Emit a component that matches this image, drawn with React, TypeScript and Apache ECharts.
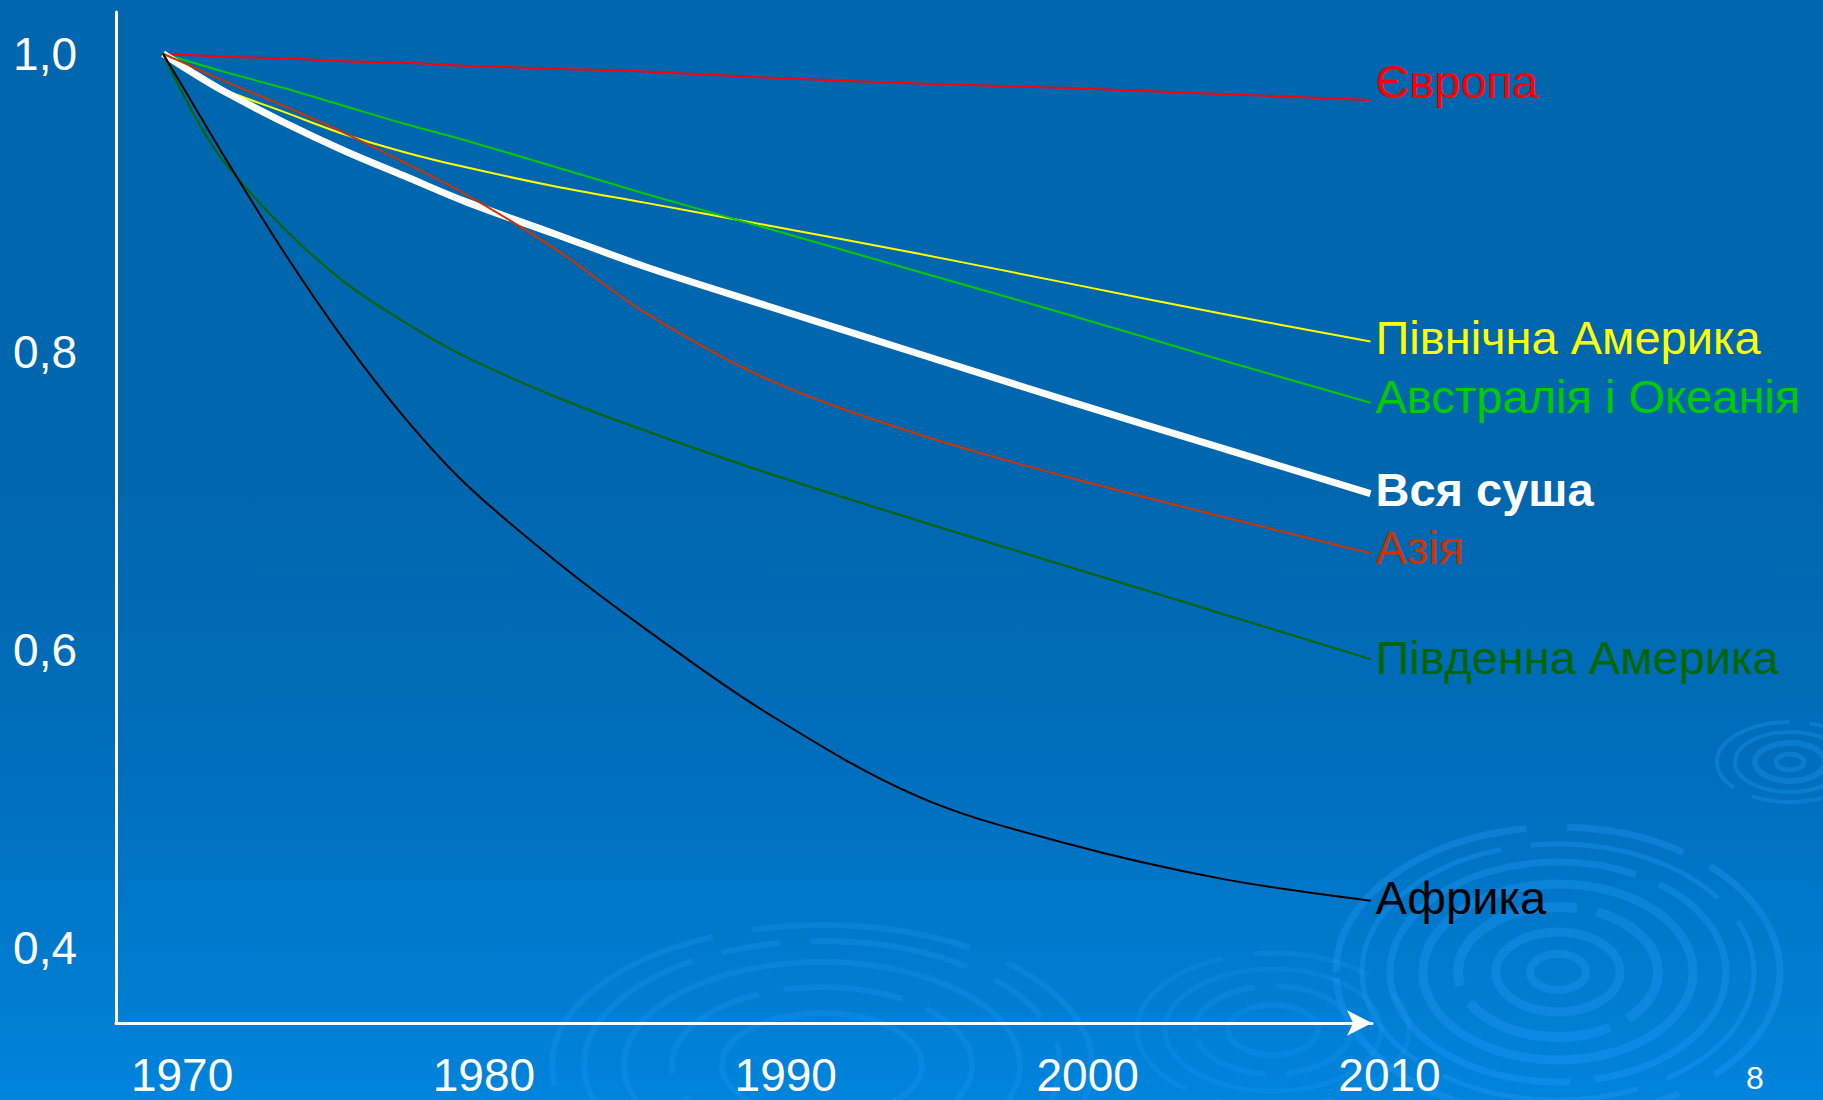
import React, { useEffect, useRef } from "react";
import * as echarts from "echarts";

const years = [1970, 1971, 1972, 1974, 1976, 1978, 1980, 1983, 1986, 1990, 1995, 2000, 2005, 2010];
const europe = [1.0, 0.999, 0.998, 0.997, 0.995, 0.994, 0.992, 0.99, 0.988, 0.984, 0.98, 0.977, 0.973, 0.969];
const northAmerica = [1.0, 0.986, 0.976, 0.961, 0.946, 0.934, 0.924, 0.911, 0.9, 0.885, 0.866, 0.846, 0.826, 0.807];
const australia = [1.0, 0.994, 0.988, 0.977, 0.965, 0.953, 0.942, 0.924, 0.906, 0.883, 0.854, 0.825, 0.795, 0.766];
const allLand = [1.0, 0.987, 0.975, 0.954, 0.935, 0.918, 0.901, 0.879, 0.857, 0.831, 0.799, 0.767, 0.736, 0.705];
const asia = [1.0, 0.991, 0.982, 0.965, 0.947, 0.927, 0.906, 0.869, 0.826, 0.782, 0.745, 0.716, 0.69, 0.665];
const southAmerica = [1.0, 0.96, 0.928, 0.883, 0.847, 0.82, 0.797, 0.77, 0.747, 0.719, 0.687, 0.656, 0.625, 0.594];
const africa = [1.0, 0.966, 0.932, 0.867, 0.808, 0.756, 0.712, 0.66, 0.614, 0.558, 0.502, 0.47, 0.447, 0.432];

const xTicks = [1970, 1980, 1990, 2000, 2010];
const yTicks = [0.4, 0.6, 0.8, 1.0];
const pageNumber = "8";

const FONT = "'Liberation Sans', Arial, sans-serif";

type SeriesDef = {
  name: string;
  values: number[];
  color: string;
  width: number;
  labelDy: number;
  bold?: boolean;
};

const seriesDefs: SeriesDef[] = [
  { name: "Європа", values: europe, color: "#FF0000", width: 2, labelDy: -18 },
  { name: "Північна Америка", values: northAmerica, color: "#FFFF00", width: 2, labelDy: -4 },
  { name: "Австралія і Океанія", values: australia, color: "#00CC00", width: 2, labelDy: -6 },
  { name: "Вся суша", values: allLand, color: "#FFFFFF", width: 7, labelDy: -4, bold: true },
  { name: "Азія", values: asia, color: "#CC3300", width: 2, labelDy: -6 },
  { name: "Південна Америка", values: southAmerica, color: "#006600", width: 2, labelDy: -2 },
  { name: "Африка", values: africa, color: "#000000", width: 2, labelDy: -3 },
];

function ripple(cx: number, cy: number, rings: [number, number, number, number[] | null][], alpha: number) {
  return rings.map(([rx, ry, lw, dash]) => ({
    type: "ellipse",
    silent: true,
    z: -1,
    shape: { cx, cy, rx, ry },
    style: {
      fill: "none",
      stroke: `rgba(40,160,255,${alpha})`,
      lineWidth: lw,
      lineDash: dash || undefined,
    },
  }));
}

export default function App() {
  const ref = useRef<HTMLDivElement>(null);

  useEffect(() => {
    if (!ref.current) return;
    const chart = echarts.init(ref.current, undefined, { renderer: "svg" });

    const series = seriesDefs.map((d) => ({
      name: d.name,
      type: "line",
      data: years.map((y, i) => [y, d.values[i]]),
      showSymbol: false,
      smooth: 0.35,
      silent: true,
      lineStyle: { color: d.color, width: d.width },
      itemStyle: { color: d.color },
      endLabel: {
        show: true,
        formatter: "{a}",
        color: d.color,
        fontSize: 47,
        fontFamily: FONT,
        fontWeight: d.bold ? "bold" : "normal",
        distance: 5,
        offset: [0, d.labelDy],
      },
    }));

    const graphics: any[] = [
      ...ripple(1558, 972, [
        [222, 145, 7, [260, 40, 120, 30]],
        [196, 128, 5, [200, 30]],
        [168, 110, 7, [300, 25]],
        [135, 88, 9, null],
        [100, 65, 10, [150, 20]],
        [62, 40, 9, null],
        [28, 18, 8, null],
      ], 0.3),
      ...ripple(1790, 762, [
        [73, 40, 4, [90, 20]],
        [55, 30, 4, null],
        [35, 19, 6, null],
        [14, 8, 5, null],
      ], 0.28),
      ...ripple(1273, 1030, [
        [136, 77, 5, [120, 30]],
        [108, 61, 5, null],
        [78, 44, 6, [80, 20]],
        [45, 25, 6, null],
      ], 0.18),
      ...ripple(822, 1065, [
        [270, 140, 6, [220, 40]],
        [238, 124, 6, [160, 30, 60, 30]],
        [198, 103, 6, null],
        [150, 78, 6, [120, 25]],
        [100, 52, 6, null],
      ], 0.22),
      {
        type: "text",
        silent: true,
        left: 1746,
        top: 1062,
        style: { text: pageNumber, fill: "#FFFFFF", fontSize: 32, fontFamily: FONT },
      },
    ];

    chart.setOption({
      animation: false,
      backgroundColor: "transparent",
      grid: { left: 116, right: 451, top: 12, bottom: 77, containLabel: false },
      xAxis: {
        type: "value",
        min: 1968.44,
        max: 2010.05,
        axisLine: {
          show: true,
          onZero: false,
          symbol: ["none", "arrow"],
          symbolSize: [19, 25],
          lineStyle: { color: "#FFFFFF", width: 3 },
        },
        axisTick: { show: false },
        splitLine: { show: false },
        axisLabel: {
          customValues: xTicks,
          formatter: (v: number) => String(Math.round(v)),
          color: "#FFFFFF",
          fontSize: 46,
          lineHeight: 46,
          fontFamily: FONT,
          margin: 29,
          padding: [0, 0, 0, 38],
        },
      },
      yAxis: {
        type: "value",
        min: 0.35,
        max: 1.028,
        axisLine: { show: true, onZero: false, lineStyle: { color: "#FFFFFF", width: 3 } },
        axisTick: { show: false },
        splitLine: { show: false },
        axisLabel: {
          customValues: yTicks,
          formatter: (v: number) => v.toFixed(1).replace(".", ","),
          color: "#FFFFFF",
          fontSize: 46,
          fontFamily: FONT,
          margin: 39,
        },
      },
      graphic: graphics,
      series,
    });

    return () => chart.dispose();
  }, []);

  return (
    <div
      ref={ref}
      style={{
        position: "absolute",
        left: 0,
        top: 0,
        width: 1823,
        height: 1100,
        background:
          "linear-gradient(to bottom, #0066AD 0%, #0067AF 45%, #006EBC 70%, #0079CC 85%, #0084DC 100%)",
      }}
    />
  );
}
